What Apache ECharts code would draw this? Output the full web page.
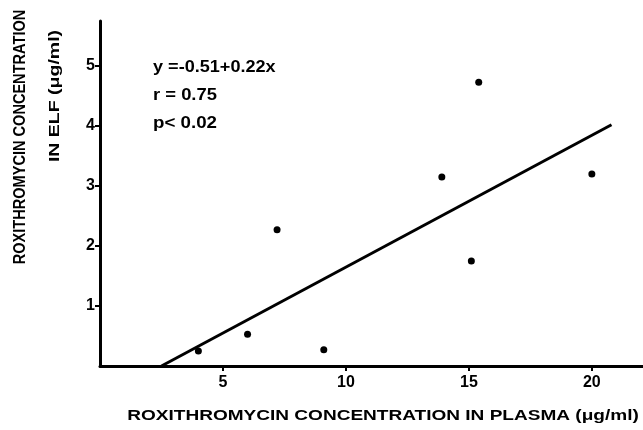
<!DOCTYPE html>
<html><head><meta charset="utf-8">
<script src="https://cdn.jsdelivr.net/npm/echarts@6/dist/echarts.min.js"></script>
<style>html,body{margin:0;padding:0;background:#fff}#c{width:643px;height:430px}</style>
</head><body><div id="c"></div>
<script>
const plasmaConc = [4.0, 6.0, 7.2, 9.1, 13.9, 15.1, 15.4, 20.0];
const elfConc    = [0.25, 0.53, 2.27, 0.27, 3.15, 1.75, 4.73, 3.2];
const fitX = [2.5, 20.8];
const fitY = [0.0, 4.02];
const xTicks = [5, 10, 15, 20];
const yTicks = [1, 2, 3, 4, 5];
const annotation = ['y =-0.51+0.22x', 'r = 0.75', 'p< 0.02'];
const yTitle = ['ROXITHROMYCIN CONCENTRATION', 'IN ELF (\u03bcg/ml)'];
const xTitle = 'ROXITHROMYCIN CONCENTRATION IN PLASMA (\u03bcg/ml)';

const FONT = '"Liberation Sans", Arial, sans-serif';
const chart = echarts.init(document.getElementById('c'), null, {renderer: 'canvas'});
const axisCommon = {
  axisLine: {show: true, onZero: false, lineStyle: {color: '#000', width: 3}},
  axisTick: {show: true, length: 5, lineStyle: {color: '#000', width: 2}},
  axisLabel: {color: '#000', fontFamily: FONT, fontWeight: 'bold', fontSize: 16},
  splitLine: {show: false}
};
const annoStyle = t => ({text: t, font: 'bold 16px ' + FONT, fill: '#000', align: 'left', verticalAlign: 'middle'});
chart.setOption({
  animation: false,
  backgroundColor: '#fff',
  grid: {left: 100, top: 21, width: 543, height: 345, containLabel: false},
  xAxis: Object.assign({}, axisCommon, {
    type: 'value', min: 0, max: 22.08, interval: 5,
    axisTick: Object.assign({}, axisCommon.axisTick, {customValues: xTicks}),
    axisLabel: Object.assign({}, axisCommon.axisLabel, {customValues: xTicks, margin: 9})
  }),
  yAxis: Object.assign({}, axisCommon, {
    type: 'value', min: 0, max: 5.75, interval: 1,
    axisTick: Object.assign({}, axisCommon.axisTick, {customValues: yTicks}),
    axisLabel: Object.assign({}, axisCommon.axisLabel, {customValues: yTicks, margin: 5})
  }),
  series: [
    {type: 'scatter', data: plasmaConc.map((x, i) => [x, elfConc[i]]),
     symbol: 'circle', symbolSize: 7, itemStyle: {color: '#000', opacity: 1}},
    {type: 'line', data: fitX.map((x, i) => [x, fitY[i]]), symbol: 'none',
     lineStyle: {color: '#000', width: 3}}
  ],
  graphic: [
    {type: 'text', x: 21, y: 137, rotation: Math.PI / 2, scaleX: 0.91,
     style: {text: yTitle[0], font: 'bold 16px ' + FONT, fill: '#000', align: 'center', verticalAlign: 'middle'}},
    {type: 'text', x: 55, y: 96, rotation: Math.PI / 2, scaleX: 1.3,
     style: {text: yTitle[1], font: 'bold 15px ' + FONT, fill: '#000', align: 'center', verticalAlign: 'middle'}},
    {type: 'text', x: 383, y: 416, scaleX: 1.36,
     style: {text: xTitle, font: 'bold 14px ' + FONT, fill: '#000', align: 'center', verticalAlign: 'middle'}},
    {type: 'text', x: 153, y: 68, scaleX: 1.13, style: annoStyle(annotation[0])},
    {type: 'text', x: 153, y: 96, scaleX: 1.15, style: annoStyle(annotation[1])},
    {type: 'text', x: 153, y: 124, scaleX: 1.17, style: annoStyle(annotation[2])}
  ]
});
</script></body></html>
